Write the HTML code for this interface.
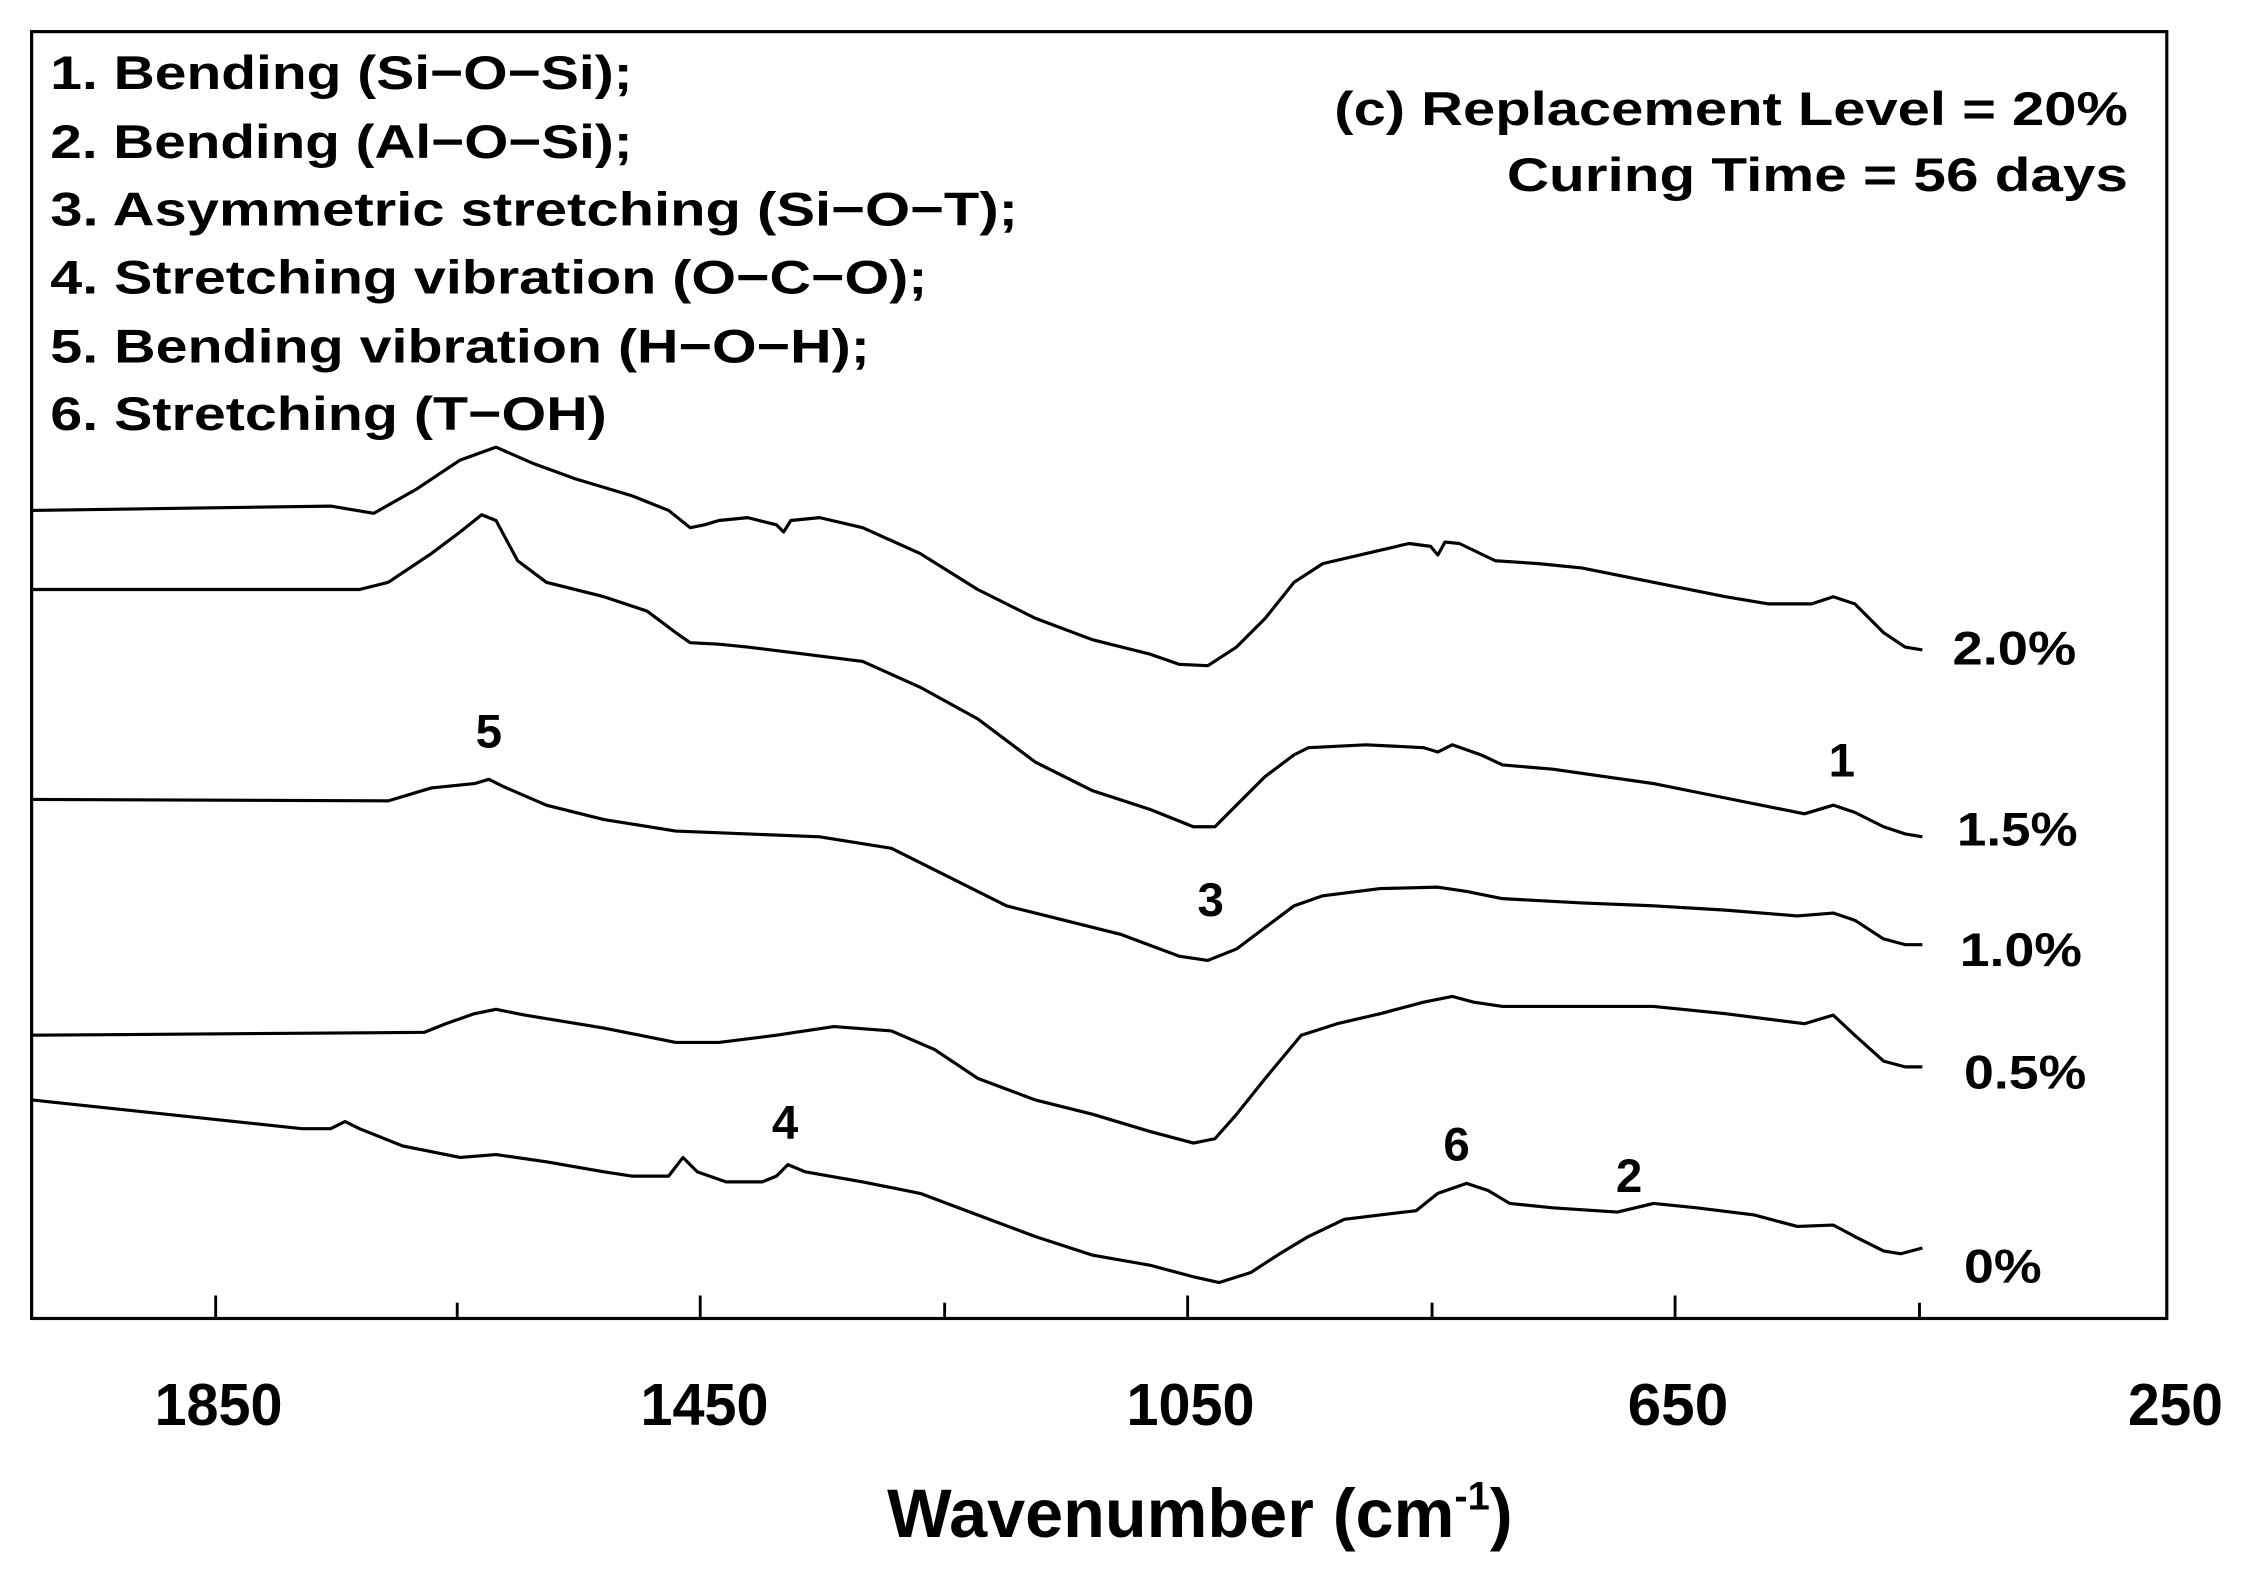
<!DOCTYPE html>
<html><head><meta charset="utf-8"><style>
html,body{margin:0;padding:0;background:#fff;}
svg{display:block;}
text{font-family:"Liberation Sans",Arial,sans-serif;font-weight:bold;fill:#000;}
</style></head><body>
<svg width="2243" height="1577" viewBox="0 0 1560 1096.8" xmlns="http://www.w3.org/2000/svg">
<rect x="22" y="22" width="1485" height="895" fill="none" stroke="#000" stroke-width="2.2"/>
<g stroke="#000" stroke-width="2">
<line x1="150" y1="917" x2="150" y2="901"/><line x1="487" y1="917" x2="487" y2="901"/>
<line x1="826" y1="917" x2="826" y2="901"/><line x1="1165" y1="917" x2="1165" y2="901"/>
<line x1="318" y1="917" x2="318" y2="906"/><line x1="657" y1="917" x2="657" y2="906"/><line x1="996" y1="917" x2="996" y2="906"/><line x1="1335" y1="917" x2="1335" y2="906"/>
</g>
<g font-size="41" text-anchor="middle">
<text x="152" y="991" textLength="89" lengthAdjust="spacingAndGlyphs">1850</text>
<text x="490" y="991" textLength="89" lengthAdjust="spacingAndGlyphs">1450</text>
<text x="828" y="991" textLength="89" lengthAdjust="spacingAndGlyphs">1050</text>
<text x="1167" y="991" textLength="70" lengthAdjust="spacingAndGlyphs">650</text>
<text x="1513" y="991" textLength="66" lengthAdjust="spacingAndGlyphs">250</text>
</g>
<text x="617" y="1069" font-size="48" textLength="435" lengthAdjust="spacingAndGlyphs">Wavenumber (cm<tspan font-size="28" dy="-19">-1</tspan><tspan dy="19">)</tspan></text>
<g font-size="33">
<text x="35" y="62" textLength="405" lengthAdjust="spacingAndGlyphs">1. Bending (Si−O−Si);</text>
<text x="35" y="110" textLength="405" lengthAdjust="spacingAndGlyphs">2. Bending (Al−O−Si);</text>
<text x="35" y="157" textLength="673" lengthAdjust="spacingAndGlyphs">3. Asymmetric stretching (Si−O−T);</text>
<text x="35" y="204" textLength="610" lengthAdjust="spacingAndGlyphs">4. Stretching vibration (O−C−O);</text>
<text x="35" y="252" textLength="570" lengthAdjust="spacingAndGlyphs">5. Bending vibration (H−O−H);</text>
<text x="35" y="299" textLength="387" lengthAdjust="spacingAndGlyphs">6. Stretching (T−OH)</text>
<text x="928" y="87" textLength="552" lengthAdjust="spacingAndGlyphs">(c) Replacement Level = 20%</text>
<text x="1048" y="133" textLength="432" lengthAdjust="spacingAndGlyphs">Curing Time = 56 days</text>
<text x="1358" y="462" textLength="86" lengthAdjust="spacingAndGlyphs">2.0%</text>
<text x="1361" y="588" textLength="84" lengthAdjust="spacingAndGlyphs">1.5%</text>
<text x="1363" y="672" textLength="85" lengthAdjust="spacingAndGlyphs">1.0%</text>
<text x="1366" y="757" textLength="85" lengthAdjust="spacingAndGlyphs">0.5%</text>
<text x="1366" y="892" textLength="54" lengthAdjust="spacingAndGlyphs">0%</text>
<g text-anchor="middle">
<text x="340" y="520">5</text><text x="842" y="637">3</text><text x="1281" y="540">1</text>
<text x="546" y="792">4</text><text x="1013" y="807">6</text><text x="1133" y="829">2</text>
</g>
</g>
<g fill="none" stroke="#000" stroke-width="2.2" stroke-linejoin="round">
<polyline points="22,355 230,352 260,357 290,340 320,320 345,311 370,322 400,333 440,345 465,355 480,367 490,365 500,362 520,360 540,365 545,370 550,362 570,360 600,367 640,385 680,410 720,430 760,445 800,455 820,462 840,463 860,450 880,430 900,405 920,392 950,385 980,378 995,380 1000,386 1005,377 1015,378 1040,390 1070,392 1100,395 1150,405 1200,415 1230,420 1260,420 1275,415 1290,420 1310,440 1325,450 1337,452"/>
<polyline points="22,410 250,410 270,405 300,385 320,370 335,358 345,362 360,390 380,405 420,415 450,425 470,440 480,447 500,448 520,450 560,455 600,460 640,478 680,500 720,530 760,550 800,563 830,575 845,575 860,560 880,540 900,525 910,520 950,518 990,520 1000,523 1010,518 1030,525 1045,532 1080,535 1150,545 1200,555 1255,566 1275,560 1290,565 1310,575 1325,580 1337,582"/>
<polyline points="22,556 270,557 300,548 330,545 340,542 350,547 380,560 420,570 470,578 520,580 570,582 620,590 660,610 700,630 740,640 780,650 820,665 840,668 860,660 880,645 900,630 920,623 960,618 1000,617 1020,620 1045,625 1100,628 1150,630 1200,633 1250,637 1275,635 1290,640 1310,653 1325,657 1337,657"/>
<polyline points="22,720 295,718 310,712 330,705 345,702 365,706 420,715 470,725 500,725 540,720 580,714 620,717 650,730 680,750 720,765 760,775 800,787 830,795 845,792 860,775 880,750 905,720 930,712 960,705 990,697 1010,693 1025,697 1045,700 1080,700 1150,700 1200,705 1255,712 1275,706 1290,720 1310,738 1325,742 1337,742"/>
<polyline points="22,765 210,785 230,785 240,780 250,785 280,797 320,805 345,803 380,808 420,815 440,818 465,818 475,805 485,815 505,822 530,822 540,818 548,810 560,815 600,822 640,830 680,845 720,860 760,873 800,880 830,888 848,892 870,885 890,872 910,860 935,848 960,845 985,842 1000,830 1020,823 1035,828 1050,837 1080,840 1110,842 1125,843 1150,837 1180,840 1220,845 1250,853 1275,852 1290,860 1310,870 1322,872 1337,868"/>
</g>
</svg>
</body></html>
